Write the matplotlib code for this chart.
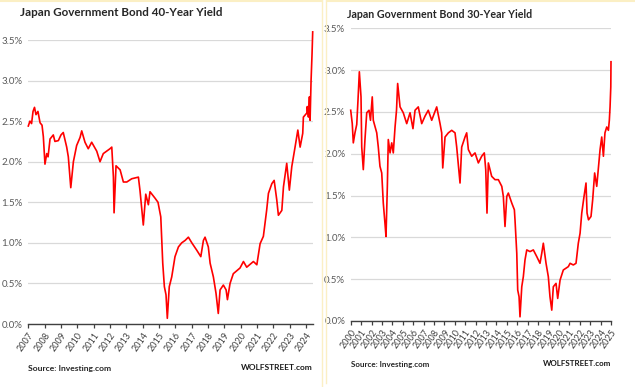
import matplotlib
matplotlib.use("Agg")
import matplotlib.pyplot as plt
from matplotlib.lines import Line2D

FONT = ["Lato", "DejaVu Sans"]
plt.rcParams["font.family"] = FONT

# 40-year JGB yield, x in the chart's year-label units
years_40 = [2007.00, 2007.10, 2007.20, 2007.29, 2007.38, 2007.47, 2007.59, 2007.72, 2007.84, 2007.92,
            2008.02, 2008.13, 2008.21, 2008.33, 2008.53, 2008.63, 2008.84, 2009.00, 2009.14, 2009.35,
            2009.45, 2009.60, 2009.76, 2009.96, 2010.17, 2010.27, 2010.47, 2010.67, 2010.88, 2011.19,
            2011.39, 2011.59, 2012.00, 2012.11, 2012.21, 2012.25, 2012.37, 2012.62, 2012.82, 2013.03,
            2013.33, 2013.74, 2013.84, 2014.04, 2014.19, 2014.35, 2014.45, 2014.76, 2014.94, 2015.11,
            2015.23, 2015.33, 2015.43, 2015.51, 2015.63, 2015.78, 2015.98, 2016.19, 2016.39, 2016.60,
            2016.80, 2017.01, 2017.31, 2017.56, 2017.72, 2017.82, 2018.02, 2018.13, 2018.33, 2018.49,
            2018.63, 2018.74, 2018.94, 2019.11, 2019.19, 2019.35, 2019.55, 2019.96, 2020.17, 2020.37,
            2020.78, 2020.99, 2021.19, 2021.39, 2021.59, 2021.70, 2021.91, 2022.05, 2022.21, 2022.31,
            2022.52, 2022.62, 2022.82, 2022.98, 2023.13, 2023.33, 2023.50, 2023.64, 2023.80, 2023.84,
            2024.05, 2024.08, 2024.15, 2024.21, 2024.25, 2024.31, 2024.37, 2024.41]
yield_40 = [2.44, 2.50, 2.47, 2.62, 2.67, 2.58, 2.62, 2.48, 2.45, 2.31,
            1.97, 2.10, 2.06, 2.28, 2.33, 2.25, 2.26, 2.33, 2.36, 2.18,
            2.06, 1.68, 2.00, 2.20, 2.30, 2.38, 2.24, 2.16, 2.24, 2.13,
            2.00, 2.10, 2.16, 2.18, 1.81, 1.37, 1.95, 1.90, 1.75, 1.75,
            1.79, 1.81, 1.64, 1.22, 1.60, 1.47, 1.63, 1.55, 1.50, 1.32,
            0.75, 0.46, 0.36, 0.07, 0.46, 0.58, 0.83, 0.95, 1.00, 1.03,
            1.07, 1.00, 0.91, 0.83, 1.03, 1.07, 0.95, 0.75, 0.58, 0.38,
            0.13, 0.42, 0.48, 0.42, 0.30, 0.50, 0.62, 0.69, 0.77, 0.70,
            0.77, 0.73, 0.99, 1.08, 1.40, 1.61, 1.73, 1.77, 1.53, 1.34,
            1.40, 1.69, 1.98, 1.65, 1.94, 2.18, 2.39, 2.18, 2.35, 2.55,
            2.60, 2.68, 2.55, 2.80, 2.51, 3.00, 3.33, 3.60]

# 30-year JGB yield
years_30 = [2000.00, 2000.15, 2000.25, 2000.41, 2000.58, 2000.70, 2000.83, 2000.99, 2001.06, 2001.21,
            2001.37, 2001.54, 2001.76, 2001.90, 2002.07, 2002.17, 2002.50, 2002.65, 2002.81, 2002.98,
            2003.13, 2003.29, 2003.39, 2003.52, 2003.61, 2003.78, 2003.94, 2004.09, 2004.26, 2004.40,
            2004.51, 2004.74, 2005.05, 2005.38, 2005.70, 2005.98, 2006.18, 2006.49, 2006.82, 2007.14,
            2007.45, 2007.78, 2008.26, 2008.58, 2008.74, 2008.84, 2009.06, 2009.38, 2009.70, 2010.02,
            2010.18, 2010.50, 2010.66, 2010.98, 2011.14, 2011.30, 2011.62, 2011.94, 2012.26, 2012.58,
            2012.83, 2012.97, 2013.09, 2013.22, 2013.54, 2013.86, 2014.18, 2014.51, 2014.66, 2014.82,
            2014.99, 2015.14, 2015.47, 2015.72, 2015.78, 2015.95, 2016.04, 2016.17, 2016.26, 2016.43,
            2016.58, 2016.74, 2016.91, 2017.22, 2017.54, 2017.87, 2018.18, 2018.35, 2018.50, 2018.76,
            2018.98, 2019.14, 2019.31, 2019.46, 2019.72, 2019.88, 2020.11, 2020.42, 2020.90, 2021.07,
            2021.38, 2021.64, 2021.86, 2022.03, 2022.19, 2022.41, 2022.60, 2022.70, 2022.84, 2023.08,
            2023.24, 2023.43, 2023.63, 2023.95, 2024.11, 2024.27, 2024.42, 2024.59, 2024.75, 2024.84,
            2024.91, 2024.98, 2025.00]
yield_30 = [2.52, 2.36, 2.13, 2.25, 2.35, 2.64, 2.98, 2.68, 2.08, 1.81,
            2.17, 2.49, 2.52, 2.40, 2.68, 2.40, 2.25, 2.08, 1.85, 1.77,
            1.41, 1.17, 1.01, 1.61, 2.17, 2.01, 2.13, 2.01, 2.32, 2.52,
            2.84, 2.56, 2.49, 2.36, 2.49, 2.30, 2.52, 2.56, 2.36, 2.45,
            2.52, 2.40, 2.56, 2.36, 2.25, 1.83, 2.20, 2.25, 2.28, 2.25,
            2.08, 1.65, 2.08, 2.20, 2.25, 2.05, 1.97, 2.01, 1.89, 1.97,
            2.01, 1.81, 1.29, 1.89, 1.73, 1.69, 1.69, 1.61, 1.49, 1.13,
            1.49, 1.53, 1.41, 1.33, 1.21, 0.81, 0.37, 0.29, 0.05, 0.41,
            0.53, 0.73, 0.85, 0.83, 0.85, 0.77, 0.69, 0.81, 0.93, 0.69,
            0.53, 0.29, 0.13, 0.41, 0.45, 0.27, 0.49, 0.61, 0.65, 0.69,
            0.67, 0.69, 0.93, 1.05, 1.29, 1.49, 1.65, 1.29, 1.21, 1.25,
            1.45, 1.77, 1.61, 2.05, 2.20, 1.97, 2.25, 2.32, 2.28, 2.40,
            2.56, 2.80, 3.10]

ticks_40 = list(range(2007, 2025))
ticks_30 = list(range(2000, 2026))
y_ticks = [0.0, 0.5, 1.0, 1.5, 2.0, 2.5, 3.0, 3.5]

W, H = 635, 387
fig = plt.figure(figsize=(W / 100, H / 100), dpi=100)
fig.patch.set_facecolor("white")


def px_axes(x0, x1, ytop, ybot):
    return fig.add_axes([x0 / W, 1 - ybot / H, (x1 - x0) / W, (ybot - ytop) / H])


def style(ax, xt, xlim):
    ax.set_xlim(*xlim)
    ax.set_ylim(0, 3.5)
    ax.set_yticks(y_ticks)
    ax.set_yticklabels([f"{v:.1f}%" for v in y_ticks])
    ax.set_xticks(xt)
    ax.set_xticklabels([str(t) for t in xt], rotation=55, ha="right",
                       rotation_mode="anchor")
    ax.grid(axis="y", color="#d9d9d9", lw=0.9)
    ax.set_axisbelow(True)
    for s in ["top", "right", "left"]:
        ax.spines[s].set_visible(False)
    ax.spines["bottom"].set_color("#404040")
    ax.spines["bottom"].set_linewidth(1.0)
    ax.tick_params(axis="y", length=0, labelsize=7, labelcolor="#595959", pad=4)
    ax.tick_params(axis="x", length=3, width=0.9, color="#404040", direction="out",
                   labelsize=6.5, labelcolor="#404040", pad=2)


ax1 = px_axes(28.3, 312.7, 40, 324)
ax1.plot(years_40, yield_40, color="#ff0000", lw=1.2, clip_on=False)
style(ax1, ticks_40, (2007, 2024.41))

ax2 = px_axes(350.7, 611, 28.3, 321)
ax2.plot(years_30, yield_30, color="#ff0000", lw=1.2, clip_on=False)
style(ax2, ticks_30, (2000, 2025))

# titles and footers
fig.text(20 / W, 1 - 12 / H, "Japan Government Bond 40-Year Yield", fontsize=8.4,
         fontweight="bold", color="#262626", va="center", ha="left")
fig.text(347 / W, 1 - 15 / H, "Japan Government Bond 30-Year Yield", fontsize=7.7,
         fontweight="bold", color="#262626", va="center", ha="left")
fig.text(28 / W, 1 - 368 / H, "Source: Investing.com", fontsize=6.1,
         fontweight="bold", color="#262626", va="center", ha="left")
fig.text(313 / W, 1 - 368 / H, "WOLFSTREET.com", fontsize=6.0,
         fontweight="bold", color="#1a1a1a", va="center", ha="right")
fig.text(351 / W, 1 - 364 / H, "Source: Investing.com", fontsize=5.8,
         fontweight="bold", color="#262626", va="center", ha="left")
fig.text(611 / W, 1 - 364 / H, "WOLFSTREET.com", fontsize=5.8,
         fontweight="bold", color="#1a1a1a", va="center", ha="right")

# faint yellow panel borders
border = "#fbefc4"
fig.add_artist(Line2D([0, 322 / W], [1 - 1 / H, 1 - 1 / H], color=border, lw=1.5,
                      transform=fig.transFigure))
fig.add_artist(Line2D([327 / W, 1], [1 - 1 / H, 1 - 1 / H], color=border, lw=1.5,
                      transform=fig.transFigure))
fig.add_artist(Line2D([322 / W, 322 / W], [1, 0], color=border, lw=1.0,
                      transform=fig.transFigure))
fig.add_artist(Line2D([326 / W, 326 / W], [1, 4 / H], color=border, lw=1.0,
                      transform=fig.transFigure))

fig.savefig("out.png", dpi=100, facecolor="white")
